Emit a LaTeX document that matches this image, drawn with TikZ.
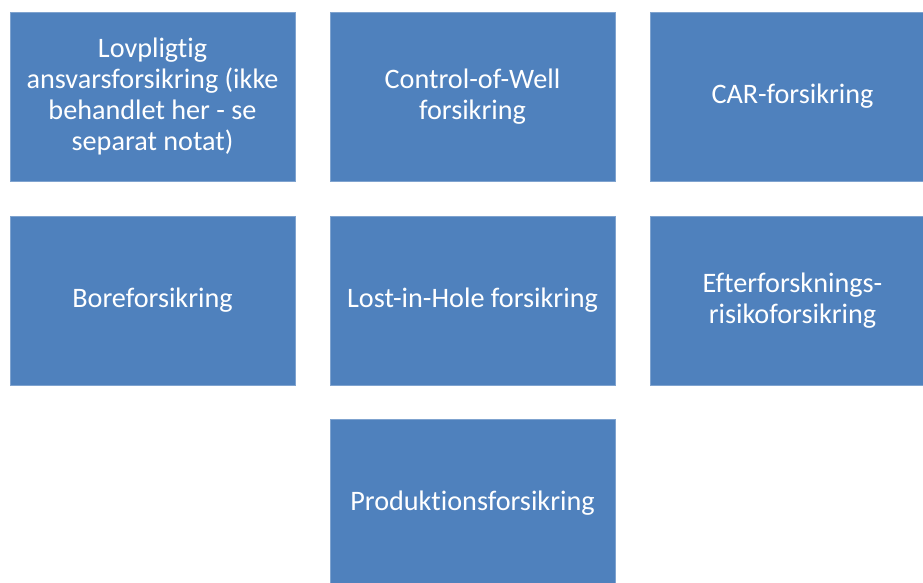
\documentclass[tikz,border=0pt]{standalone}
\usepackage{fontspec}
\setmainfont{Carlito}[Ligatures={NoCommon}]
\definecolor{tileblue}{HTML}{4F81BD}
\definecolor{tileedge}{HTML}{7FA3CF}
\begin{document}
\begin{tikzpicture}[x=1pt,y=-1pt,
  tile/.style={fill=tileblue, draw=tileedge, line width=0.8pt,
    minimum width=285pt, minimum height=169pt, inner sep=0pt,
    text=white, align=center, font=\fontsize{28.2}{30.7}\selectfont}]
  \useasboundingbox (0,0) rectangle (923,583);
  \clip (0,0) rectangle (923,583);
  % first row
  \node[tile] (lov) at (152.5,96.5) {Lovpligtig\\ansvarsforsikring (ikke\\behandlet her - se\\separat notat)};
  \node[tile] (cow) at (472.5,96.5) {Control-of-Well\\forsikring};
  \node[tile] (car) at (792.5,96.5) {CAR-forsikring};
  % second row
  \node[tile] (bore) at (152.5,300.5) {Boreforsikring};
  \node[tile] (lih) at (472.5,300.5) {Lost-in-Hole forsikring};
  \node[tile] (eft) at (792.5,300.5) {Efterforsknings-\\risikoforsikring};
  % third row
  \node[tile] (prod) at (472.5,503.5) {Produktionsforsikring};
\end{tikzpicture}
\end{document}
